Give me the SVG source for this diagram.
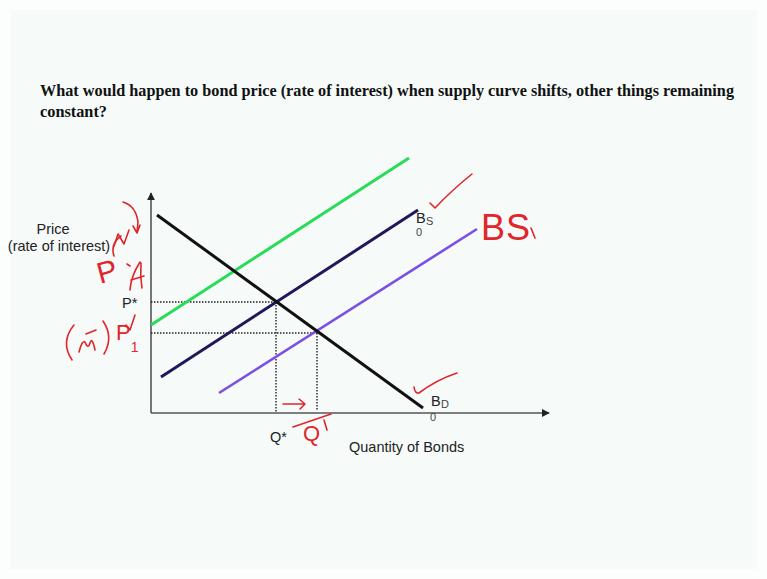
<svg xmlns="http://www.w3.org/2000/svg" width="767" height="579" viewBox="0 0 767 579">
<defs>
<style>
.title{font-family:"Liberation Serif",serif;font-weight:bold;font-size:17px;fill:#111}
.lab{font-family:"Liberation Sans",Arial,sans-serif;font-size:14.5px;fill:#222}
.sm{font-family:"Liberation Sans",Arial,sans-serif;font-size:11px;fill:#444}
.hand{font-family:"Liberation Sans",sans-serif;fill:#e0262a}
.ink{fill:none;stroke:#e0262a;stroke-width:1.6;stroke-linecap:round;stroke-linejoin:round}
.axis{stroke:#555;stroke-width:1.6}
.dot{stroke:#222;stroke-width:1.4;stroke-dasharray:1.5 1.5}
</style>
<marker id="ah" viewBox="0 0 10 10" refX="9" refY="5" markerWidth="8" markerHeight="8" markerUnits="userSpaceOnUse" orient="auto">
<path d="M0,0 L10,5 L0,10 z" fill="#222"/>
</marker>
</defs>
<rect width="767" height="579" fill="#fcfefe"/>
<rect x="10" y="10" width="747" height="559" fill="#f6fbfa"/>

<g id="title">
<text class="title" x="40" y="96" textLength="694" lengthAdjust="spacingAndGlyphs">What would happen to bond price (rate of interest) when supply curve shifts, other things remaining</text>
<text class="title" x="40" y="117" textLength="67" lengthAdjust="spacingAndGlyphs">constant?</text>
</g>

<g id="axes">
<line class="axis" x1="151" y1="413" x2="151" y2="193" marker-end="url(#ah)"/>
<line class="axis" x1="151" y1="413" x2="549" y2="413" marker-end="url(#ah)"/>
<text class="lab" x="53" y="234" text-anchor="middle">Price</text>
<text class="lab" x="59" y="251" text-anchor="middle">(rate of interest)</text>
<text class="lab" x="349" y="452">Quantity of Bonds</text>
</g>

<g id="connectors">
<line class="dot" x1="151" y1="302" x2="276" y2="302"/>
<line class="dot" x1="276" y1="302" x2="276" y2="413"/>
<line class="dot" x1="151" y1="333" x2="317" y2="333"/>
<line class="dot" x1="317" y1="333" x2="317" y2="410"/>
</g>

<g id="curve-green"><line x1="151" y1="325" x2="409" y2="158" stroke="#27dc57" stroke-width="3"/></g>
<g id="curve-bs0"><line x1="161" y1="377" x2="418" y2="210" stroke="#1d1a5c" stroke-width="3"/>
<text class="lab" x="416" y="223">B</text><text class="sm" x="426" y="225">S</text><text class="sm" x="416" y="236" font-size="10">0</text></g>
<g id="curve-bs1"><line x1="219" y1="393" x2="477" y2="229" stroke="#7b4fe3" stroke-width="2.6"/></g>
<g id="curve-bd"><line x1="157" y1="215" x2="423" y2="408" stroke="#111" stroke-width="3"/>
<text class="lab" x="431" y="406">B</text><text class="sm" x="441" y="408">D</text><text class="sm" x="430" y="421" font-size="10">0</text></g>

<g id="labels">
<text class="lab" x="122" y="308" font-size="12">P*</text>
<text class="lab" x="270" y="442" font-size="12">Q*</text>
</g>

<g id="annotations">
<path class="ink" d="M430,203 L435,208 Q452,190 472,174"/>
<path class="ink" d="M414,387 Q415,394 419,393 Q436,380 457,373"/>
<text class="hand" x="481" y="240" font-size="36" letter-spacing="1">BS</text>
<path class="ink" d="M531,228 L535,238"/>
<path class="ink" d="M283,404 L305,404 M299,399 L305,404 L300,409"/>
<path class="ink" d="M293,427 L331,414"/>
<text class="hand" x="303" y="441" font-size="22">Q</text>
<path class="ink" d="M324,420 L327,430"/>
<text class="hand" transform="translate(100,284) rotate(-15)" font-size="30">P</text>
<path class="ink" d="M121,236 Q110,244 114,256"/>
<path class="ink" d="M123,202 Q136,206 138,222 L137,232 M133,226 L137,233 L140,225 M114,246 L118,234 L124,244 L129,230"/>
<path class="ink" d="M127,264 L130,266 M140,262 Q131,276 130,290 M141,263 Q140,276 142,288 M131,280 L144,276"/>
<path class="ink" d="M74,325 Q60,342 72,360 M79,352 Q82,340 85,342 Q88,350 90,343 Q92,336 95,350 M86,334 L96,330 M103,321 Q114,337 104,354"/>
<text class="hand" x="116" y="340" font-size="22">P<tspan font-size="14" dy="12">1</tspan></text>
<path class="ink" d="M126,325 L130,330 L135,315"/>
</g>
</svg>
